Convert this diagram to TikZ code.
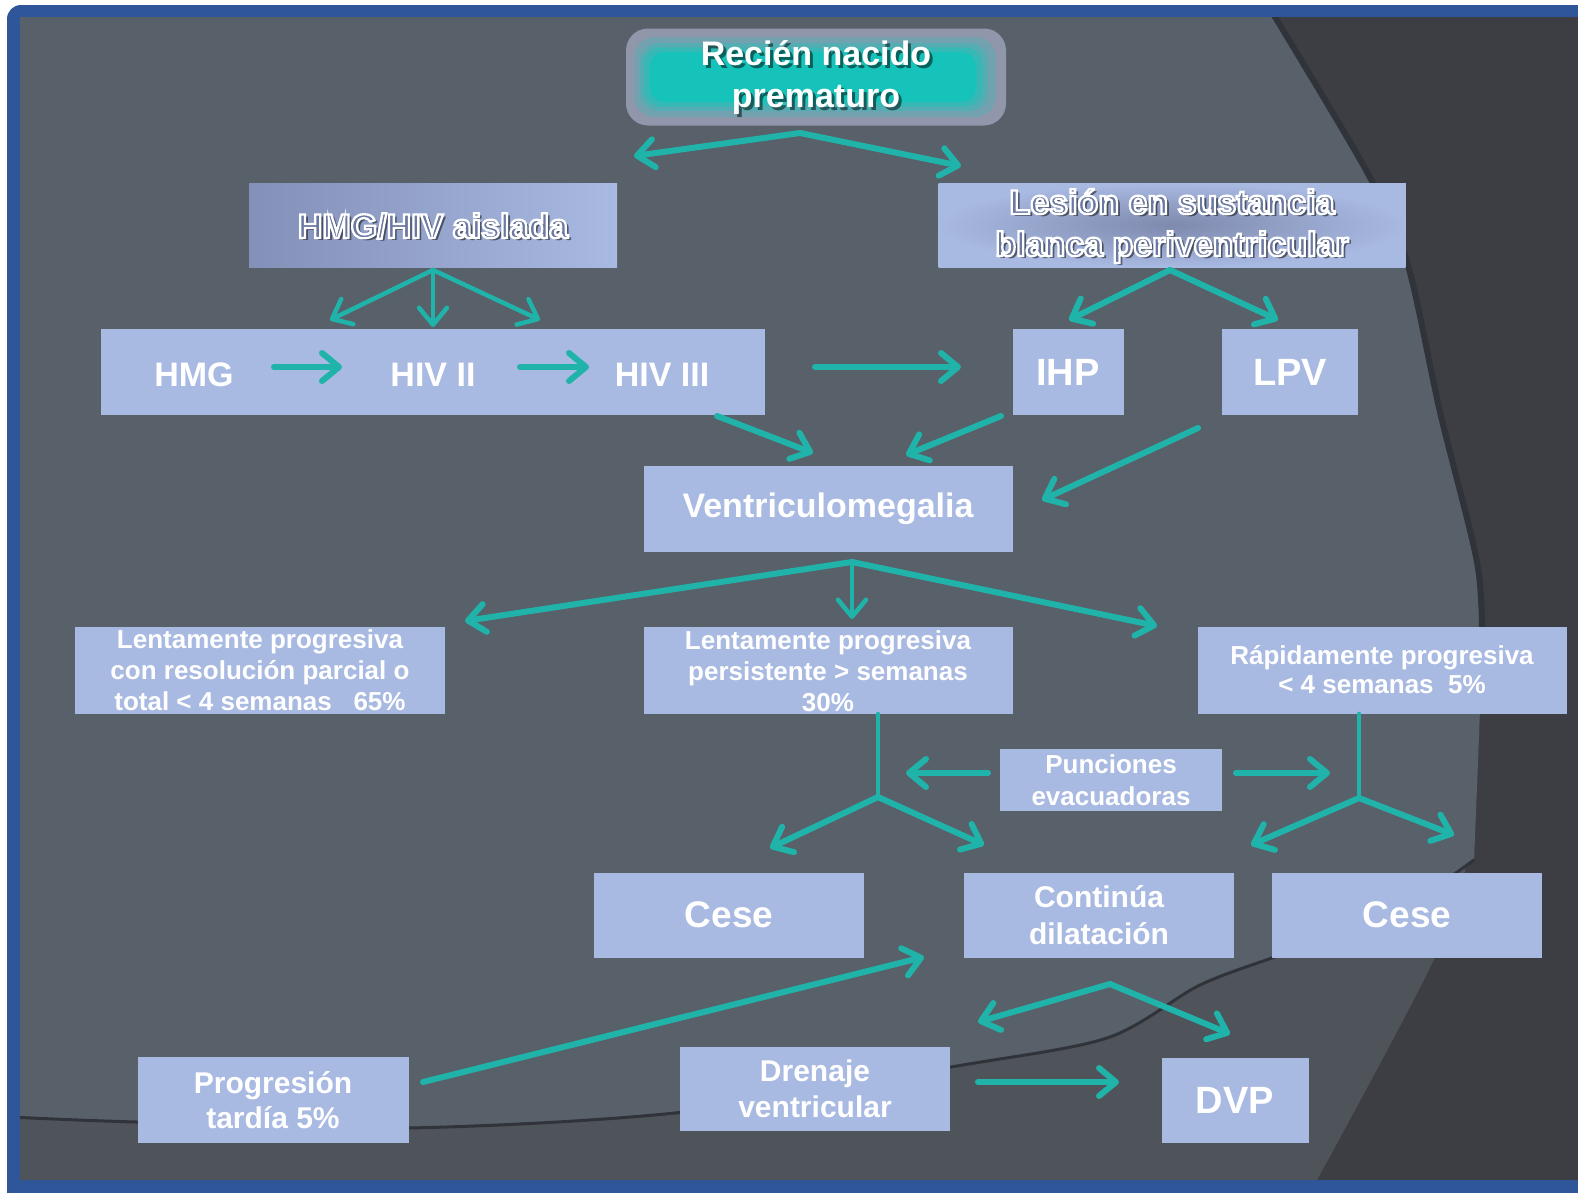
\documentclass[tikz,border=0pt]{standalone}
\usepackage{fontspec}
\setmainfont{Liberation Sans}
\usepackage{xcolor}
\usepackage{tikz}
\usetikzlibrary{arrows.meta}
\usetikzlibrary{calc}
\usetikzlibrary{positioning}

\definecolor{frameblue}{HTML}{2F5699}
\definecolor{bgdark}{HTML}{3D3E43}
\definecolor{bgmid}{HTML}{4F535A}
\definecolor{bglight}{HTML}{58606A}
\definecolor{bgline}{HTML}{30333A}
\definecolor{boxfill}{HTML}{A8B9E2}
\definecolor{aishade}{HTML}{8390B8}
\definecolor{leshade}{HTML}{7E89AD}
\definecolor{outin}{HTML}{6A78A2}
\definecolor{arrteal}{HTML}{1FB3AA}
\definecolor{rnteal}{HTML}{16C3BA}
\definecolor{rngray}{HTML}{9097AB}

% white outline round the letters
\newcommand{\olon}{\special{pdf:literal direct 2 Tr 1 1 1 RG 2.3 w}}
\newcommand{\oloff}{\special{pdf:literal direct 0 Tr}}

\begin{document}
\begin{tikzpicture}[x=1pt,y=-1pt,line cap=round,>={Straight Barb[length=17pt,width=28pt,round]}]
 				 \tikzstyle{blok}=[fill=boxfill, inner sep=0pt]
 				 \tikzstyle{txt}=[inner sep=0pt, text=white, align=center]
 				 \tikzstyle{shade}=[inner sep=0pt, text=black, opacity=.5, align=center]
 				 \tikzstyle{big}=[font=\fontsize{34}{42}\selectfont\bfseries]
 				 \tikzstyle{mid}=[font=\fontsize{30}{37}\selectfont\bfseries]
 				 \tikzstyle{small}=[font=\fontsize{26}{31}\selectfont\bfseries]
 				 \tikzstyle{arr}=[->, draw=arrteal, line width=6pt]
 				 \tikzstyle{thin}=[->, draw=arrteal, line width=4.5pt]
 				 \tikzstyle{stem}=[-, draw=arrteal, line width=4pt]
 				 \useasboundingbox (0,0) rectangle (1578,1192);
 				 % background
 				 \fill[white] (0,0) rectangle (1578,1192);
 				 \fill[frameblue, rounded corners=14pt] (7,5) rectangle (1620,1230);
 				 \fill[bgdark] (20,17) rectangle (1578,1180);
 				 \begin{scope}
 				 \clip (20,17) rectangle (1578,1180);
 				 \fill[bgmid] (20,17) -- plot[smooth] coordinates {(1272,17) (1367,172) (1407,262) (1440,412) (1477,562) (1482,640) (1470,841) (1436,955) (1317,1180)} -- (20,1180) -- cycle;
 				 \fill[bglight] (20,17) -- plot[smooth] coordinates {(1272,17) (1367,172) (1407,262) (1440,412) (1477,562) (1482,640) (1474,860)} -- plot[smooth] coordinates {(1474,860) (1390,915) (1283,954) (1200,985) (1107,1038) (951,1067) (684,1112) (407,1128) (136,1122) (20,1117)} -- cycle;
 				 \draw[bgline, line width=6pt] plot[smooth] coordinates {(1272,12) (1367,172) (1407,262) (1440,412) (1477,562) (1482,640)};
 				 \draw[bgline, line width=3pt] plot[smooth] coordinates {(1474,860) (1390,915) (1283,954) (1200,985) (1107,1038) (951,1067) (684,1112) (407,1128) (136,1122) (10,1117)};
 				 \end{scope}

 				 % top box
 				 \node[fill=rngray, rounded corners=22pt, minimum width=380pt, minimum height=97pt] (rnbox) at (816,77) {};
 				 \node[fill=rnteal!25!rngray, rounded corners=21pt, minimum width=362pt, minimum height=80pt] (rnr1) at (815,77) {};
 				 \node[fill=rnteal!50!rngray, rounded corners=19pt, minimum width=348pt, minimum height=68pt] (rnr2) at (814,77) {};
 				 \node[fill=rnteal!75!rngray, rounded corners=17pt, minimum width=338pt, minimum height=59pt] (rnr3) at (813,77) {};
 				 \node[fill=rnteal, rounded corners=15pt, minimum width=326pt, minimum height=50pt] (rnin) at (813,77) {};
 				 \node[shade, big] (rnsh) at (819,81) {Recién nacido\\prematuro};
 				 \node[txt, big] (rn) at (816,78) {Recién nacido\\prematuro};

 				 % outlined boxes
 				 \node[blok, left color=aishade, right color=boxfill, minimum width=368pt, minimum height=84pt] (aibox) at (433,225) {};
 				 \node[shade, big] (aish) at (436,229) {HMG/HIV aislada};
 				 \node[txt, big, text=outin] (ai) at (433,226) {\olon HMG/HIV aislada\oloff};

 				 \node[blok, inner color=leshade, outer color=boxfill, minimum width=467pt, minimum height=84pt] (lebox) at (1172,225) {};
 				 \node[shade, big] (lesh) at (1175,229) {Lesión en sustancia\\blanca periventricular};
 				 \node[txt, big, text=outin] (le) at (1172,226) {\olon Lesión en sustancia\\blanca periventricular\oloff};

 				 % second row
 				 \node[blok, minimum width=664pt, minimum height=86pt] (row) at (433,372) {};
 				 \node[txt, big] (hmg) at (194,375) {HMG};
 				 \node[txt, big] (hivii) at (433,375) {HIV II};
 				 \node[txt, big] (hiviii) at (662,375) {HIV III};
 				 \node[blok, txt, font=\fontsize{38}{44}\selectfont\bfseries, minimum width=111pt, minimum height=86pt] (ihp) at (1068,372) {IHP};
 				 \node[blok, txt, font=\fontsize{38}{44}\selectfont\bfseries, minimum width=136pt, minimum height=86pt] (lpv) at (1290,372) {LPV};

 				 \node[blok, txt, big, minimum width=369pt, minimum height=86pt] (vm) at (828,509) {Ventriculomegalia};

 				 % third row
 				 \node[blok, minimum width=370pt, minimum height=87pt] (l1) at (260,670) {};
 				 \node[txt, small] (l1t) at (260,670) {Lentamente progresiva\\con resolución parcial o\\total < 4 semanas \ \ 65\%};
 				 \node[blok, minimum width=369pt, minimum height=87pt] (l2) at (828,670) {};
 				 \node[txt, small] (l2t) at (828,671) {Lentamente progresiva\\persistente > semanas\\30\%};
 				 \node[blok, txt, font=\fontsize{26}{29}\selectfont\bfseries, minimum width=369pt, minimum height=87pt] (rp) at (1382,670) {Rápidamente progresiva\\< 4 semanas \ 5\%};
 				 \node[blok, txt, font=\fontsize{26}{32}\selectfont\bfseries, minimum width=222pt, minimum height=62pt] (pun) at (1111,780) {Punciones\\evacuadoras};

 				 % fourth row
 				 \node[blok, txt, font=\fontsize{37}{44}\selectfont\bfseries, minimum width=270pt, minimum height=85pt] (cese1) at (729,915) {Cese};
 				 \node[blok, txt, mid, minimum width=270pt, minimum height=85pt] (cont) at (1099,915) {Continúa\\dilatación};
 				 \node[blok, txt, font=\fontsize{37}{44}\selectfont\bfseries, minimum width=270pt, minimum height=85pt] (cese2) at (1407,915) {Cese};

 				 % bottom row
 				 \node[blok, txt, font=\fontsize{30}{35}\selectfont\bfseries, minimum width=271pt, minimum height=86pt] (prog) at (273,1100) {Progresión\\tardía 5\%};
 				 \node[blok, txt, font=\fontsize{30}{36}\selectfont\bfseries, minimum width=270pt, minimum height=84pt] (dren) at (815,1089) {Drenaje\\ventricular};
 				 \node[blok, txt, font=\fontsize{38}{44}\selectfont\bfseries, minimum width=147pt, minimum height=85pt] (dvp) at (1235,1100) {DVP};

 				 % arrow ends
 				 \coordinate (rnA) at (800,133);  \coordinate (rnL) at (634,156);  \coordinate (rnR) at (961,166);
 				 \coordinate (aiA) at (433,270);  \coordinate (aiL) at (330,320);  \coordinate (aiM) at (433,327);  \coordinate (aiR) at (540,320);
 				 \coordinate (leA) at (1170,270); \coordinate (leL) at (1069,320); \coordinate (leR) at (1278,320);
 				 \coordinate (r1s) at (274,367);  \coordinate (r1e) at (342,367);
 				 \coordinate (r2s) at (520,367);  \coordinate (r2e) at (589,367);
 				 \coordinate (r3s) at (815,367);  \coordinate (r3e) at (961,367);
 				 \coordinate (v1s) at (717,416);  \coordinate (v1e) at (813,453);
 				 \coordinate (v2s) at (1001,416); \coordinate (v2e) at (906,455);
 				 \coordinate (v3s) at (1198,428); \coordinate (v3e) at (1042,500);
 				 \coordinate (vA) at (852,562);   \coordinate (vL) at (465,621);   \coordinate (vM) at (852,619);  \coordinate (vR) at (1157,626);
 				 \coordinate (tA) at (878,797);   \coordinate (tL) at (770,848);   \coordinate (tR) at (984,845);
 				 \coordinate (uA) at (1359,798);  \coordinate (uL) at (1251,845);  \coordinate (uR) at (1454,835);
 				 \coordinate (pLs) at (988,773);  \coordinate (pLe) at (906,773);
 				 \coordinate (pRs) at (1236,773); \coordinate (pRe) at (1330,773);
 				 \coordinate (pgS) at (423,1082); \coordinate (pgE) at (924,957);
 				 \coordinate (cA) at (1110,984);  \coordinate (cL) at (978,1022);  \coordinate (cR) at (1230,1034);
 				 \coordinate (dS) at (978,1082);  \coordinate (dE) at (1119,1082);

 				 \path
 				 			(rnA) edge[arr] (rnL)
 				 			(rnA) edge[arr] (rnR)
 				 			(aiA) edge[thin] (aiL)
 				 			(aiA) edge[thin] (aiM)
 				 			(aiA) edge[thin] (aiR)
 				 			(leA) edge[arr] (leL)
 				 			(leA) edge[arr] (leR)
 				 			(r1s) edge[arr] (r1e)
 				 			(r2s) edge[arr] (r2e)
 				 			(r3s) edge[arr] (r3e)
 				 			(v1s) edge[arr] (v1e)
 				 			(v2s) edge[arr] (v2e)
 				 			(v3s) edge[arr] (v3e)
 				 			(vA) edge[arr] (vL)
 				 			(vA) edge[thin] (vM)
 				 			(vA) edge[arr] (vR)
 				 			(l2.south -| tA) edge[stem] (tA)
 				 			(tA) edge[arr] (tL)
 				 			(tA) edge[arr] (tR)
 				 			(rp.south -| uA) edge[stem] (uA)
 				 			(uA) edge[arr] (uL)
 				 			(uA) edge[arr] (uR)
 				 			(pLs) edge[arr] (pLe)
 				 			(pRs) edge[arr] (pRe)
 				 			(pgS) edge[arr] (pgE)
 				 			(cA) edge[arr] (cL)
 				 			(cA) edge[arr] (cR)
 				 			(dS) edge[arr] (dE);
\end{tikzpicture}
\end{document}
